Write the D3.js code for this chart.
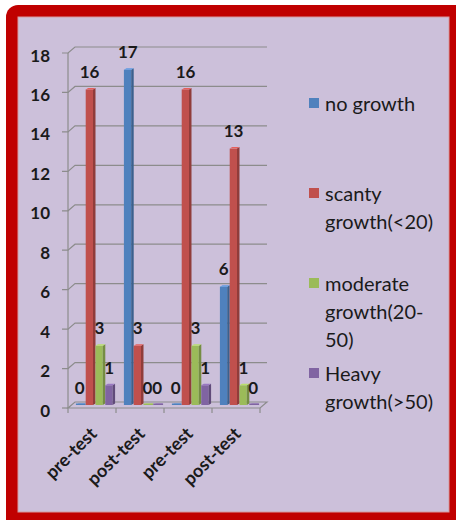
<!DOCTYPE html>
<html>
<head>
<meta charset="utf-8">
<script src="https://cdn.jsdelivr.net/npm/d3@7"></script>
<style>
  html, body { margin: 0; padding: 0; background: #fff; }
  svg { display: block; }
</style>
</head>
<body>
<svg width="456" height="520"></svg>
<script>
// datos del gráfico
const categories = ['pre-test', 'post-test', 'pre-test', 'post-test'];
const seriesNames = ['no growth', 'scanty growth(<20)', 'moderate growth(20-50)', 'Heavy growth(>50)'];
const noGrowth = [0, 17, 0, 6];
const scanty = [16, 3, 16, 13];
const moderate = [3, 0, 3, 1];
const heavy = [1, 0, 1, 0];
const yTicks = [0, 2, 4, 6, 8, 10, 12, 14, 16, 18];
const legendLines = [['no growth'], ['scanty', 'growth(<20)'], ['moderate', 'growth(20-', '50)'], ['Heavy', 'growth(>50)']];
const colores = ['#4F81BD', '#C0504D', '#9BBB59', '#8064A2'];

const series = [noGrowth, scanty, moderate, heavy];

const svg = d3.select('svg');
const font = 'Lato, "Open Sans", sans-serif';

// marco rojo
svg.append('rect')
    .attr('x', 6).attr('y', 5)
    .attr('width', 462).attr('height', 530)
    .attr('rx', 12)
    .attr('fill', '#C00000');
svg.append('rect')
    .attr('x', 18).attr('y', 17)
    .attr('width', 431).attr('height', 495)
    .attr('fill', '#CCC0DA')
    .attr('stroke', '#D59A9F')
    .attr('stroke-width', 1);

// profundidad 3D
const dx = 7, dy = 6;

// escalas
const yFront = d3.scaleLinear().domain([0, 18]).range([408, 53]);
const yBar = v => yFront(v) - dy / 2;
const x0 = d3.scaleBand().domain(d3.range(categories.length)).range([68, 260]);
const x1 = d3.scaleBand().domain(d3.range(series.length))
    .range([0, x0.bandwidth()]).paddingOuter(0.45);

const ejes = svg.append('g')
    .attr('fill', 'none')
    .attr('stroke', '#8C8C8C')
    .attr('stroke-width', 1.2);

// lineas de la grilla (pared trasera) + marcas
yTicks.forEach(t => {
    const y = yFront(t);
    if (t > 0) {
        ejes.append('path')
            .attr('d', `M62,${y}H68L${68 + dx},${y - dy}H${260 + dx}`);
    } else {
        ejes.append('path').attr('d', `M62,${y}H68`);
    }
});

// eje vertical
ejes.append('line')
    .attr('x1', 68).attr('x2', 68)
    .attr('y1', yFront(18)).attr('y2', yFront(0));

// piso
const y0 = yFront(0);
ejes.append('path')
    .attr('d', `M68,${y0}H260L${260 + dx},${y0 - dy}H${68 + dx}Z`);

// marcas de categorías
d3.range(categories.length + 1).forEach(i => {
    const x = 68 + i * x0.bandwidth();
    ejes.append('line')
        .attr('x1', x).attr('x2', x)
        .attr('y1', y0).attr('y2', y0 + 5);
});

// barras 3D
const barras = svg.append('g');
const sd = 2.5; // lado
categories.forEach((c, i) => {
    series.forEach((s, k) => {
        const v = s[i];
        const bx = x0(i) + dx / 2 + x1(k);
        const w = x1.bandwidth();
        const top = yBar(v);
        const base = yBar(0);
        const col = d3.color(colores[k]);
        const h = Math.max(base - top, 0);
        if (h > 0) {
            barras.append('rect')
                .attr('x', bx).attr('y', top)
                .attr('width', w - sd).attr('height', h)
                .attr('fill', colores[k]);
            barras.append('path')
                .attr('d', `M${bx + w - sd},${top}L${bx + w},${top - 1.5}V${base - 1.5}L${bx + w - sd},${base}Z`)
                .attr('fill', col.darker(0.8));
        }
        barras.append('path')
            .attr('d', `M${bx},${top}L${bx + sd},${top - 1.5}H${bx + w}L${bx + w - sd},${top}Z`)
            .attr('fill', col.brighter(0.5));
        if (h === 0) {
            barras.append('rect')
                .attr('x', bx).attr('y', top - 1.5)
                .attr('width', w).attr('height', 1.5)
                .attr('fill', colores[k]);
        }
    });
});

// etiquetas de datos
categories.forEach((c, i) => {
    series.forEach((s, k) => {
        const v = s[i];
        svg.append('text')
            .attr('x', x0(i) + dx / 2 + x1(k) + x1.bandwidth() / 2 - 1)
            .attr('y', yBar(v) - 18)
            .attr('text-anchor', 'middle')
            .attr('dominant-baseline', 'central')
            .attr('font-family', font)
            .attr('font-weight', 'bold')
            .attr('font-size', 17)
            .attr('fill', '#1a1a1a')
            .text(v);
    });
});

// etiquetas del eje Y
yTicks.forEach(t => {
    svg.append('text')
        .attr('x', 50)
        .attr('y', yFront(t) + 2)
        .attr('text-anchor', 'end')
        .attr('dominant-baseline', 'central')
        .attr('font-family', font)
        .attr('font-weight', 'bold')
        .attr('font-size', 17)
        .attr('fill', '#1a1a1a')
        .text(t);
});

// etiquetas de categorías, rotadas
categories.forEach((c, i) => {
    const cx = x0(i) + x0.bandwidth() / 2 + 1;
    svg.append('text')
        .attr('transform', `translate(${cx},${y0 + 22}) rotate(-45)`)
        .attr('text-anchor', 'end')
        .attr('dominant-baseline', 'central')
        .attr('font-family', font)
        .attr('font-weight', 'bold')
        .attr('font-size', 18)
        .attr('fill', '#1a1a1a')
        .text(c);
});

// leyenda
const leyenda = svg.append('g').attr('transform', 'translate(309, 0)');
legendLines.forEach((lineas, k) => {
    const yl = 103 + k * 90;
    leyenda.append('rect')
        .attr('x', 0).attr('y', yl - 5)
        .attr('width', 10).attr('height', 10)
        .attr('fill', colores[k]);
    const txt = leyenda.append('text')
        .attr('font-family', font)
        .attr('font-size', 20)
        .attr('fill', '#1a1a1a');
    lineas.forEach((l, j) => {
        txt.append('tspan')
            .attr('x', 16)
            .attr('y', yl + j * 28)
            .attr('dominant-baseline', 'central')
            .text(l);
    });
});
</script>
</body>
</html>
